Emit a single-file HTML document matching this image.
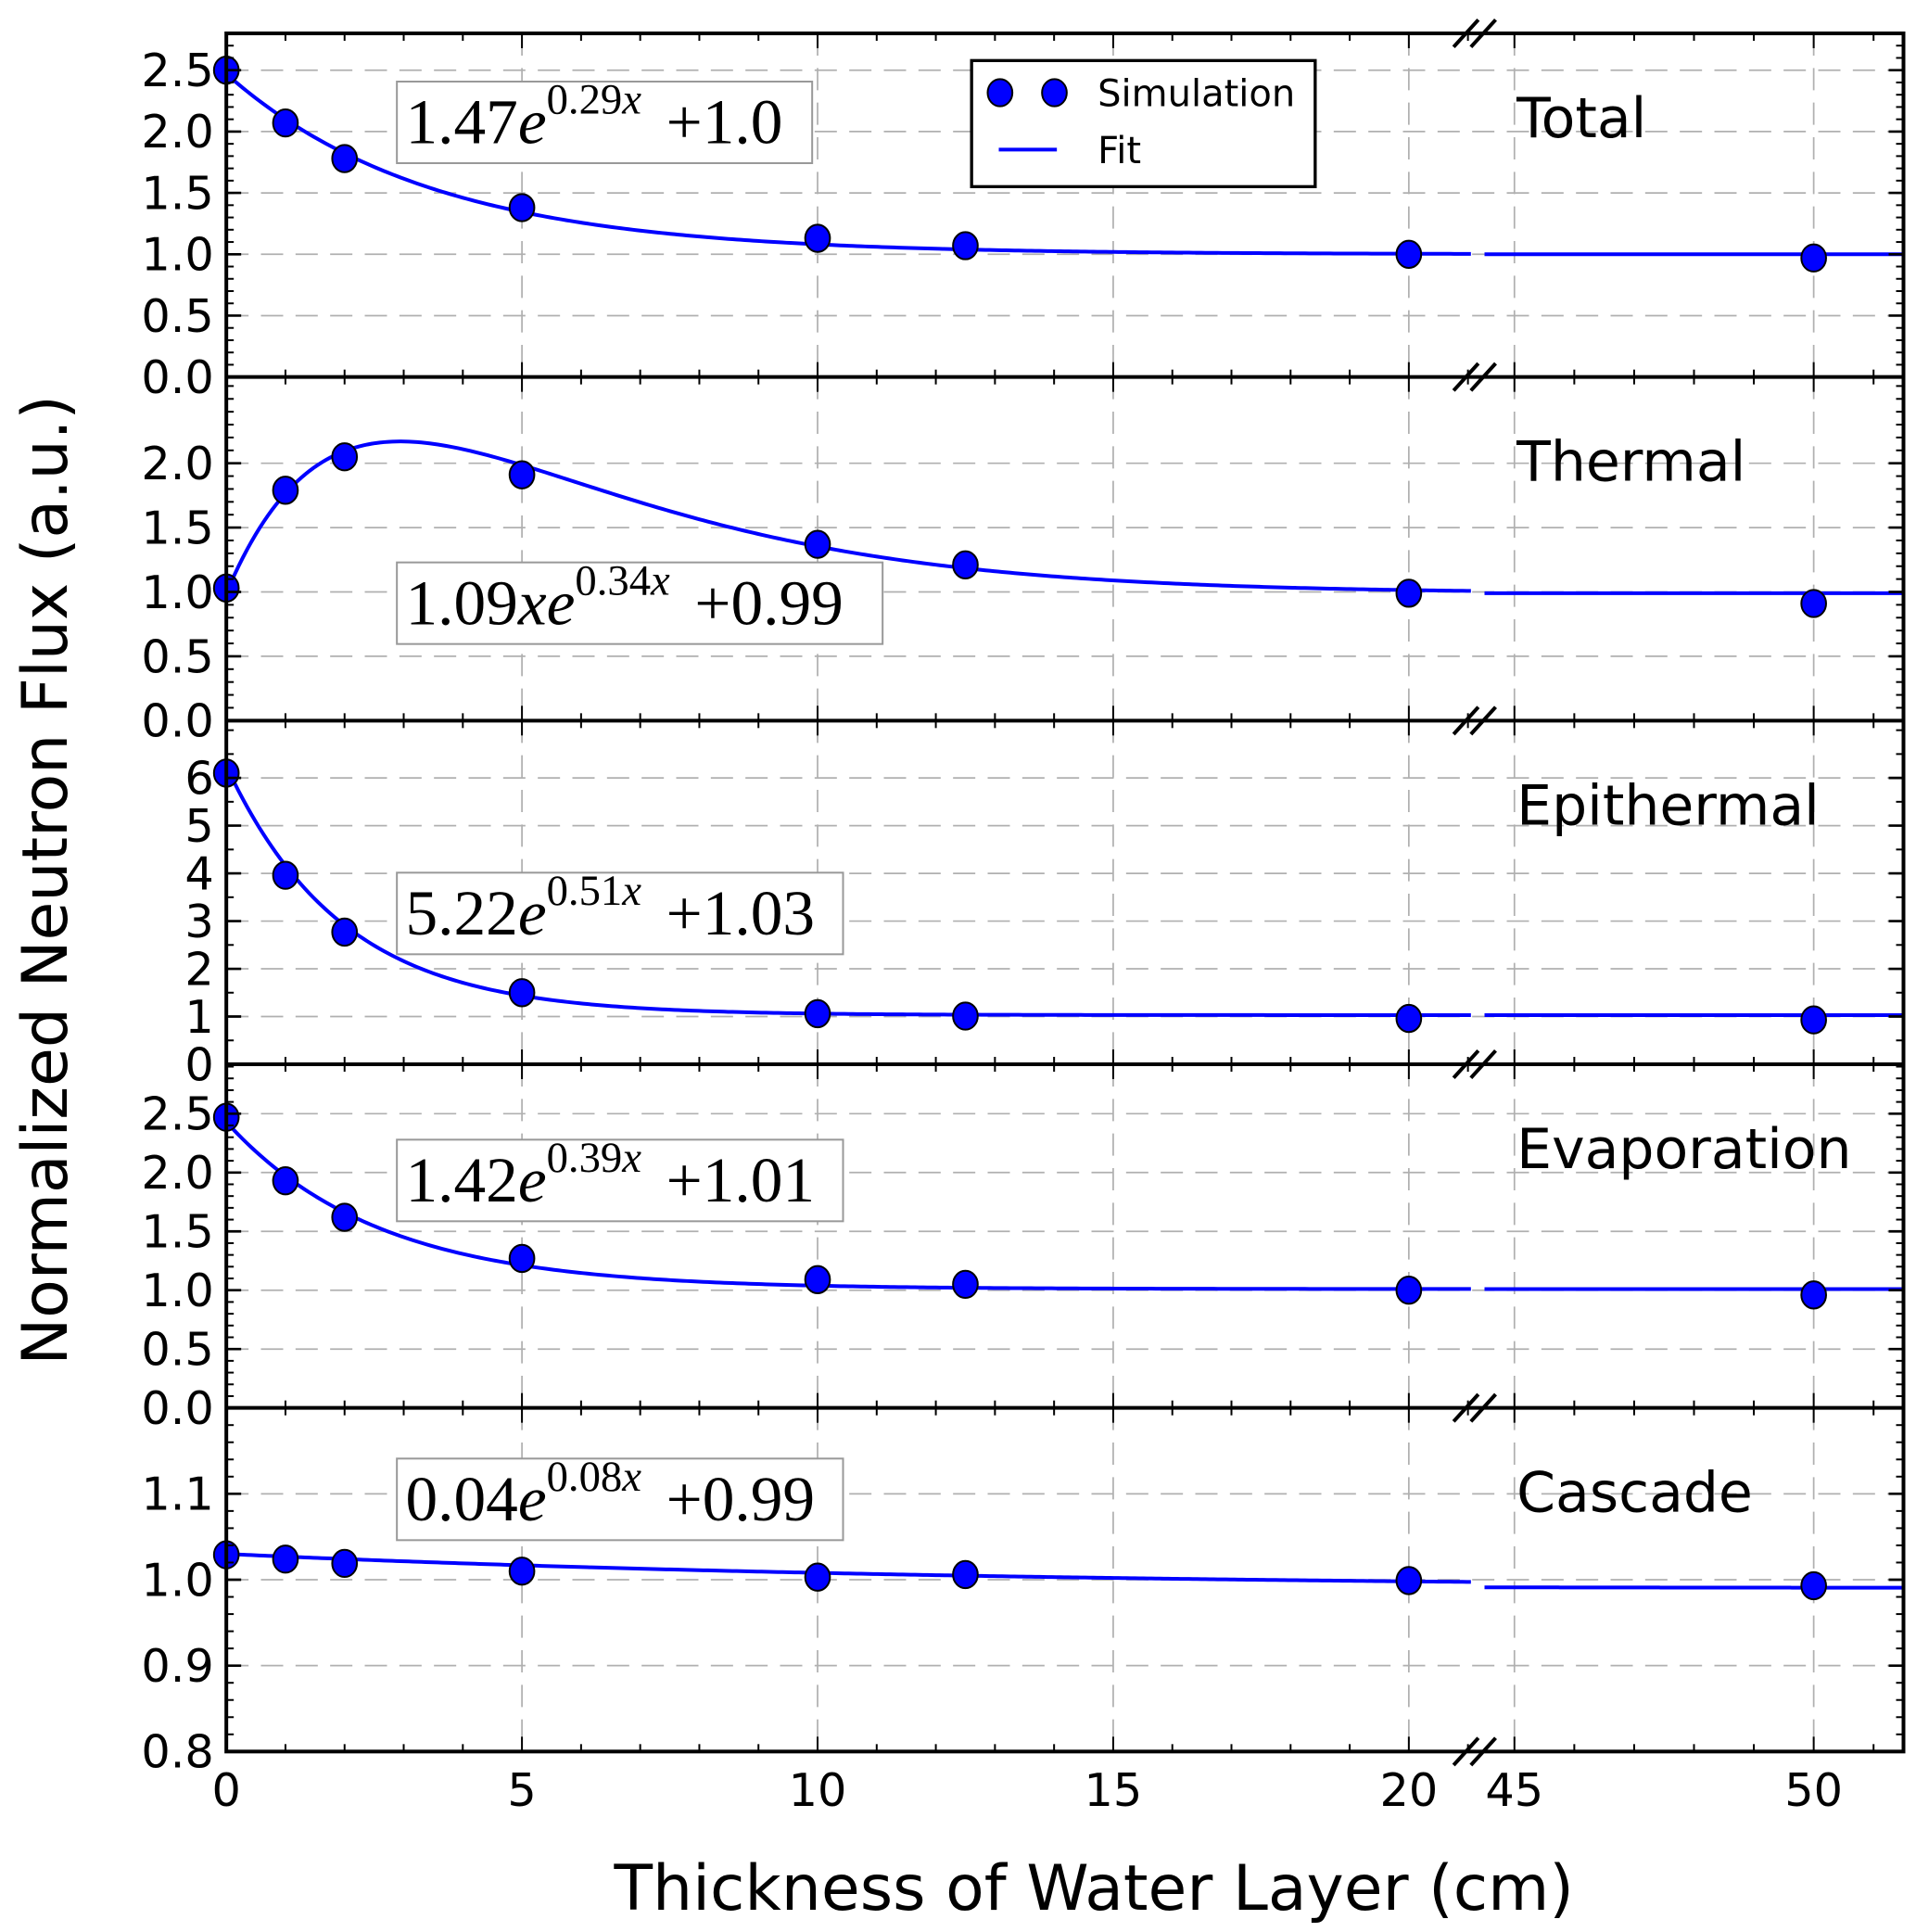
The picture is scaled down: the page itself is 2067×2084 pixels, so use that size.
<!DOCTYPE html>
<html><head><meta charset="utf-8"><style>
html,body{margin:0;padding:0;background:#fff}
svg{display:block}
text{font-family:"DejaVu Sans","Liberation Sans",sans-serif}
.eq{font-family:"Liberation Serif",serif}
</style></head><body>
<svg id="chart" width="2067" height="2084" viewBox="0 0 1550 1563" xmlns="http://www.w3.org/2000/svg">
<g id="grid"></g>
<g id="curves"></g>
<g id="points"></g>
<g id="axes"></g>
<g id="labels"></g>
</svg>
<script>
const xValues = [0, 1, 2, 5, 10, 12.5, 20, 50];
const panelNames = ["Total", "Thermal", "Epithermal", "Evaporation", "Cascade"];
const totalValues = [2.5, 2.07, 1.78, 1.38, 1.13, 1.07, 1.0, 0.97];
const thermalValues = [1.03, 1.79, 2.05, 1.91, 1.37, 1.21, 0.99, 0.91];
const epithermalValues = [6.1, 3.96, 2.77, 1.5, 1.06, 1.01, 0.96, 0.93];
const evaporationValues = [2.47, 1.93, 1.62, 1.27, 1.09, 1.05, 1.0, 0.96];
const cascadeValues = [1.029, 1.024, 1.019, 1.010, 1.003, 1.006, 0.999, 0.993];
const fitA = [1.47, 1.09, 5.22, 1.42, 0.04];
const fitB = [0.29, 0.34, 0.51, 0.39, 0.08];
const fitC = [1.0, 0.99, 1.03, 1.01, 0.99];
const fitUsesX = [false, true, false, false, false];
const fitLabelsCoef = ["1.47", "1.09", "5.22", "1.42", "0.04"];
const fitLabelsExp = ["0.29", "0.34", "0.51", "0.39", "0.08"];
const fitLabelsConst = ["+1.0", "+0.99", "+1.03", "+1.01", "+0.99"];
const yMin = [0, 0, 0, 0, 0.8];
const yMax = [2.8, 2.67, 7.2, 2.92, 1.2];
const yMajorStep = [0.5, 0.5, 1, 0.5, 0.1];
const yMinorStep = [0.1, 0.1, 0.5, 0.1, 0.02];
const yMajorTicks = [
  ["0.0","0.5","1.0","1.5","2.0","2.5"],
  ["0.0","0.5","1.0","1.5","2.0"],
  ["0","1","2","3","4","5","6"],
  ["0.0","0.5","1.0","1.5","2.0","2.5"],
  ["0.8","0.9","1.0","1.1"]
];
const xTicksLeft = ["0","5","10","15","20"];
const xTicksRight = ["45","50"];
const allValues = [totalValues, thermalValues, epithermalValues, evaporationValues, cascadeValues];

const NS = "http://www.w3.org/2000/svg";
const L = 183, R = 1540, TOP = 27, PH = 278;
const LX0 = 0, LX1 = 21.05, LPX1 = 1190;
const RX0 = 44.5, RX1 = 51.5, RPX0 = 1201;
function xs(x){ if (x <= 30) return L + (x - LX0) / (LX1 - LX0) * (LPX1 - L); return RPX0 + (x - RX0) / (RX1 - RX0) * (R - RPX0); }
function ys(p, v){ const t = TOP + p * PH; return t + PH - (v - yMin[p]) / (yMax[p] - yMin[p]) * PH; }
function mk(tag, attrs, parent){ const e = document.createElementNS(NS, tag); for (const k in attrs) e.setAttribute(k, attrs[k]); parent.appendChild(e); return e; }
const gGrid = document.getElementById('grid'), gCurves = document.getElementById('curves'), gPts = document.getElementById('points'), gAxes = document.getElementById('axes'), gLab = document.getElementById('labels');

for (let p = 0; p < 5; p++) {
  const top = TOP + p * PH, bot = top + PH;
  [5,10,15,20,45,50].forEach(x => {
    const ln = mk('line', {x1: xs(x), x2: xs(x), y1: top, y2: bot, stroke: '#b0b0b0', 'stroke-width': 1.3, 'stroke-dasharray': '18 10'}, gGrid);
    
    
  });
  const nMaj = yMajorTicks[p].length;
  for (let i = 0; i < nMaj; i++) {
    const v = yMin[p] + i * yMajorStep[p];
    const y = ys(p, v);
    if (i > 0) {
      const g = mk('line', {x1: L, x2: R, y1: y, y2: y, stroke: '#b0b0b0', 'stroke-width': 1.3, 'stroke-dasharray': '18 10'}, gGrid);
      
      
    }
    mk('line', {x1: L, x2: L + 12, y1: y, y2: y, stroke: '#000', 'stroke-width': 2}, gAxes);
    mk('line', {x1: R, x2: R - 12, y1: y, y2: y, stroke: '#000', 'stroke-width': 2}, gAxes);
    const t = mk('text', {x: 173, y: y + 13, 'font-size': 37, 'text-anchor': 'end'}, gLab);
    t.textContent = yMajorTicks[p][i];
    
    
  }
  for (let v = yMin[p]; v <= yMax[p] + 1e-9; v += yMinorStep[p]) {
    const y = ys(p, v);
    if (y < top + 1) continue;
    mk('line', {x1: L, x2: L + 6, y1: y, y2: y, stroke: '#000', 'stroke-width': 1.5}, gAxes);
    mk('line', {x1: R, x2: R - 6, y1: y, y2: y, stroke: '#000', 'stroke-width': 1.5}, gAxes);
  }
  const xt = [];
  for (let x = 0; x <= 21; x++) xt.push(x);
  for (let x = 45; x <= 51; x++) xt.push(x);
  xt.forEach(x => {
    const len = (x % 5 === 0) ? 12 : 6;
    mk('line', {x1: xs(x), x2: xs(x), y1: bot, y2: bot - len, stroke: '#000', 'stroke-width': 1.5}, gAxes);
    mk('line', {x1: xs(x), x2: xs(x), y1: top, y2: top + len, stroke: '#000', 'stroke-width': 1.5}, gAxes);
  });
  const segs = [[0, LX1], [RX0, RX1]];
  segs.forEach(sg => {
    let d = '';
    for (let k = 0; k <= 300; k++) {
      const x = sg[0] + (sg[1] - sg[0]) * k / 300;
      const v = fitA[p] * (fitUsesX[p] ? x : 1) * Math.exp(-fitB[p] * x) + fitC[p];
      d += (k ? 'L' : 'M') + xs(x).toFixed(2) + ' ' + ys(p, v).toFixed(2);
    }
    const path = mk('path', {d: d, fill: 'none', stroke: '#0000ff', 'stroke-width': 3}, gCurves);
    
    
  });
  allValues[p].forEach((v, i) => {
    const c = mk('ellipse', {cx: xs(xValues[i]), cy: ys(p, v), rx: 10, ry: 11, fill: '#0000ff', stroke: '#000', 'stroke-width': 1.5}, gPts);
    
    
  });
  const nm = mk('text', {x: 1227, y: top + 84, 'font-size': 45}, gLab);
  nm.textContent = panelNames[p];
  
  
}
const eqBoxes = [[66, 336], [455, 393], [706, 361], [922, 361], [1180, 361]];
for (let p = 0; p < 5; p++) {
  const [by, bw] = eqBoxes[p];
  const r = mk('rect', {x: 321, y: by, width: bw, height: 66, fill: '#fff', stroke: '#999', 'stroke-width': 1.5}, gLab);
  
  
  const t = mk('text', {x: 328, y: by + 50, 'font-size': 52, 'class': 'eq'}, gLab);
  
  
  const a = mk('tspan', {}, t); a.textContent = fitLabelsCoef[p];
  const ax = mk('tspan', {'font-style': 'italic'}, t); ax.textContent = (fitUsesX[p] ? 'x' : '') + 'e';
  const b = mk('tspan', {dy: -24, 'font-size': 35}, t); b.textContent = fitLabelsExp[p];
  const bx = mk('tspan', {'font-size': 35, 'font-style': 'italic'}, t); bx.textContent = 'x';
  const c = mk('tspan', {dy: 24, dx: 20}, t); c.textContent = fitLabelsConst[p];
}
mk('rect', {x: L, y: TOP, width: R - L, height: PH * 5, fill: 'none', stroke: '#000', 'stroke-width': 3}, gAxes);
for (let p = 1; p < 5; p++) mk('line', {x1: L, x2: R, y1: TOP + p * PH, y2: TOP + p * PH, stroke: '#000', 'stroke-width': 3}, gAxes);
for (let p = 0; p <= 5; p++) {
  const y = TOP + p * PH;
  [1186, 1200].forEach(x => mk('line', {x1: x - 10, y1: y + 11, x2: x + 10, y2: y - 11, stroke: '#000', 'stroke-width': 3}, gAxes));
}
const bot = TOP + 5 * PH;
xTicksLeft.forEach(s => { const t = mk('text', {x: xs(+s), y: bot + 44, 'font-size': 37, 'text-anchor': 'middle'}, gLab); t.textContent = s;   });
xTicksRight.forEach(s => { const t = mk('text', {x: xs(+s), y: bot + 44, 'font-size': 37, 'text-anchor': 'middle'}, gLab); t.textContent = s;   });
</script>
<svg style="position:absolute;left:0;top:0" width="2067" height="2084" viewBox="0 0 1550 1563" xmlns="http://www.w3.org/2000/svg">
<text x="885" y="1545" font-size="51" text-anchor="middle" style="font-family:'DejaVu Sans','Liberation Sans',sans-serif">Thickness of Water Layer (cm)</text>
<text x="0" y="0" font-size="51" text-anchor="middle" transform="translate(54,712) rotate(-90)" style="font-family:'DejaVu Sans','Liberation Sans',sans-serif">Normalized Neutron Flux (a.u.)</text>
<g>
<rect x="786" y="49" width="278" height="102" fill="#fff" stroke="#000" stroke-width="2.5"/>
<ellipse cx="809" cy="75" rx="10" ry="11" fill="#0000ff" stroke="#000" stroke-width="1.5"/>
<ellipse cx="853" cy="75" rx="10" ry="11" fill="#0000ff" stroke="#000" stroke-width="1.5"/>
<text x="888" y="86" font-size="30" style="font-family:'DejaVu Sans','Liberation Sans',sans-serif">Simulation</text>
<line x1="808" x2="855" y1="121" y2="121" stroke="#0000ff" stroke-width="3"/>
<text x="888" y="132" font-size="30" style="font-family:'DejaVu Sans','Liberation Sans',sans-serif">Fit</text>
</g>
</svg>
</body></html>
